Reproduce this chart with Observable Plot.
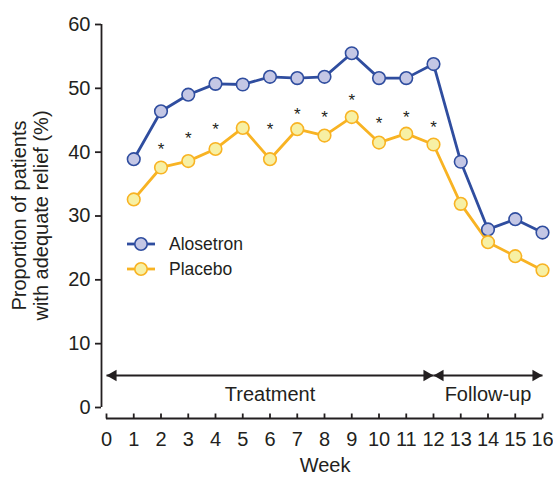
<!DOCTYPE html>
<html><head><meta charset="utf-8">
<script src="https://cdn.jsdelivr.net/npm/d3@7"></script>
<script src="https://cdn.jsdelivr.net/npm/@observablehq/plot@0.6"></script>
<style>
body{margin:0;background:#fff;}
#wrap{position:relative;width:553px;height:484px;font-family:"Liberation Sans",Arial,Helvetica,sans-serif;color:#231f20;}
#wrap svg.plot{display:block}
.legend{position:absolute;left:127px;top:231.5px;font-size:17.5px;line-height:25px;}
.legend .row{display:flex;align-items:center;height:25px;}
.legend .row svg{margin-right:14px;}
</style></head><body><div id="wrap"></div>
<script>
const weeks = [1,2,3,4,5,6,7,8,9,10,11,12,13,14,15,16];
const alosetron = [38.9,46.4,49.0,50.7,50.6,51.8,51.6,51.8,55.5,51.6,51.6,53.8,38.5,27.9,29.5,27.4];
const placebo = [32.6,37.6,38.6,40.5,43.8,38.9,43.6,42.6,45.5,41.5,42.9,41.2,31.9,25.9,23.7,21.5];
const starWeeks = [2,3,4,6,7,8,9,10,11,12];
const starLevels = [41.2,42.9,44.4,44.4,46.7,46.2,48.8,45.2,46.2,44.6];
const xTicks = [0,1,2,3,4,5,6,7,8,9,10,11,12,13,14,15,16];
const yTicks = [0,10,20,30,40,50,60];
const phaseLabels = ["Treatment","Follow-up"];
const phaseStart = [0,12];
const phaseEnd = [12,16];
const arrowLevel = 5;
const seriesNames = ["Alosetron","Placebo"];

const ink = "#231f20";
const lineColors = ["#2f4d9f","#f8b323"];
const fillColors = ["#c4c7e5","#f7f0a4"];
const font = '"Liberation Sans",Arial,Helvetica,sans-serif';

const rows = [];
weeks.forEach((w,i)=>{
  rows.push({series:seriesNames[0], week:w, value:alosetron[i]});
  rows.push({series:seriesNames[1], week:w, value:placebo[i]});
});
const stars = starWeeks.map((w,i)=>({week:w, value:starLevels[i]}));
const phases = phaseLabels.map((l,i)=>({label:l, start:phaseStart[i], end:phaseEnd[i], mid:(phaseStart[i]+phaseEnd[i])/2}));
const heads = [];
phases.forEach(p=>{ heads.push({x:p.start, dir:-1}); heads.push({x:p.end, dir:1}); });

const tickUp = {draw(ctx){ ctx.moveTo(0,0); ctx.lineTo(0,-5); }};

const chart = Plot.plot({
  width:553, height:484,
  marginTop:24, marginBottom:66, marginLeft:101, marginRight:11,
  insetLeft:5, insetBottom:11, insetTop:0, insetRight:0,
  style:{fontFamily:font, fontSize:"20px", color:ink, background:"#fff"},
  x:{domain:[0,16]},
  y:{domain:[0,60]},
  color:{domain:seriesNames, range:lineColors},
  marks:[
    Plot.ruleX([0], {y1:0, y2:60, dx:-5, stroke:ink, strokeWidth:1.8}),
    Plot.ruleY([0], {x1:0, x2:16, dy:11, stroke:ink, strokeWidth:1.8}),
    Plot.axisY(yTicks, {tickSize:6, tickPadding:5, strokeWidth:1.8, stroke:ink, fill:ink, fontSize:20, label:null}),
    Plot.axisX(xTicks, {tickSize:0, tickPadding:13, fill:ink, fontSize:20, label:null}),
    Plot.dot(xTicks, {x:d=>d, y:0, dy:11, symbol:tickUp, stroke:ink, fill:"none", strokeWidth:1.8}),
    Plot.text(["Week"], {frameAnchor:"bottom", dx:3, dy:53, text:d=>d, fill:ink, fontSize:20}),
    Plot.text(["Proportion of patients\nwith adequate relief (%)"], {frameAnchor:"left", textAnchor:"middle", rotate:-90, dx:-72, dy:-6, text:d=>d, fill:ink, fontSize:20, lineHeight:1.1}),
    // phase arrows
    Plot.link(phases, {x1:"start", x2:"end", y1:arrowLevel, y2:arrowLevel, stroke:ink, strokeWidth:2}),
    Plot.dot(heads.filter(h=>h.dir>0), {x:"x", y:arrowLevel, symbol:"triangle", rotate:90, r:4.3, dx:-6.7, fill:ink, stroke:"none"}),
    Plot.dot(heads.filter(h=>h.dir<0), {x:"x", y:arrowLevel, symbol:"triangle", rotate:-90, r:4.3, dx:6.7, fill:ink, stroke:"none"}),
    Plot.text(phases, {x:"mid", y:arrowLevel, dy:19, text:"label", fill:ink, fontSize:20}),
    // series
    Plot.line(rows, {x:"week", y:"value", z:"series", stroke:"series", strokeWidth:2.8}),
    Plot.dot(rows, {x:"week", y:"value", r:6.3, stroke:"series", fill:d=>fillColors[seriesNames.indexOf(d.series)], strokeWidth:1.6}),
    // significance stars
    Plot.text(stars, {x:"week", y:"value", text:()=>"*", fill:ink, fontSize:17, dy:5})
  ]
});
chart.classList.add("plot");
const wrap = document.getElementById("wrap");
wrap.appendChild(chart);

const legend = document.createElement("div");
legend.className = "legend";
seriesNames.forEach((n,i)=>{
  const row = document.createElement("div");
  row.className = "row";
  row.innerHTML = `<svg width="28" height="16" viewBox="0 0 28 16"><line x1="0" y1="8" x2="28" y2="8" stroke="${lineColors[i]}" stroke-width="2.8"/><circle cx="14" cy="8" r="6.2" fill="${fillColors[i]}" stroke="${lineColors[i]}" stroke-width="1.6"/></svg><span>${n}</span>`;
  legend.appendChild(row);
});
wrap.appendChild(legend);
</script>
</body></html>
